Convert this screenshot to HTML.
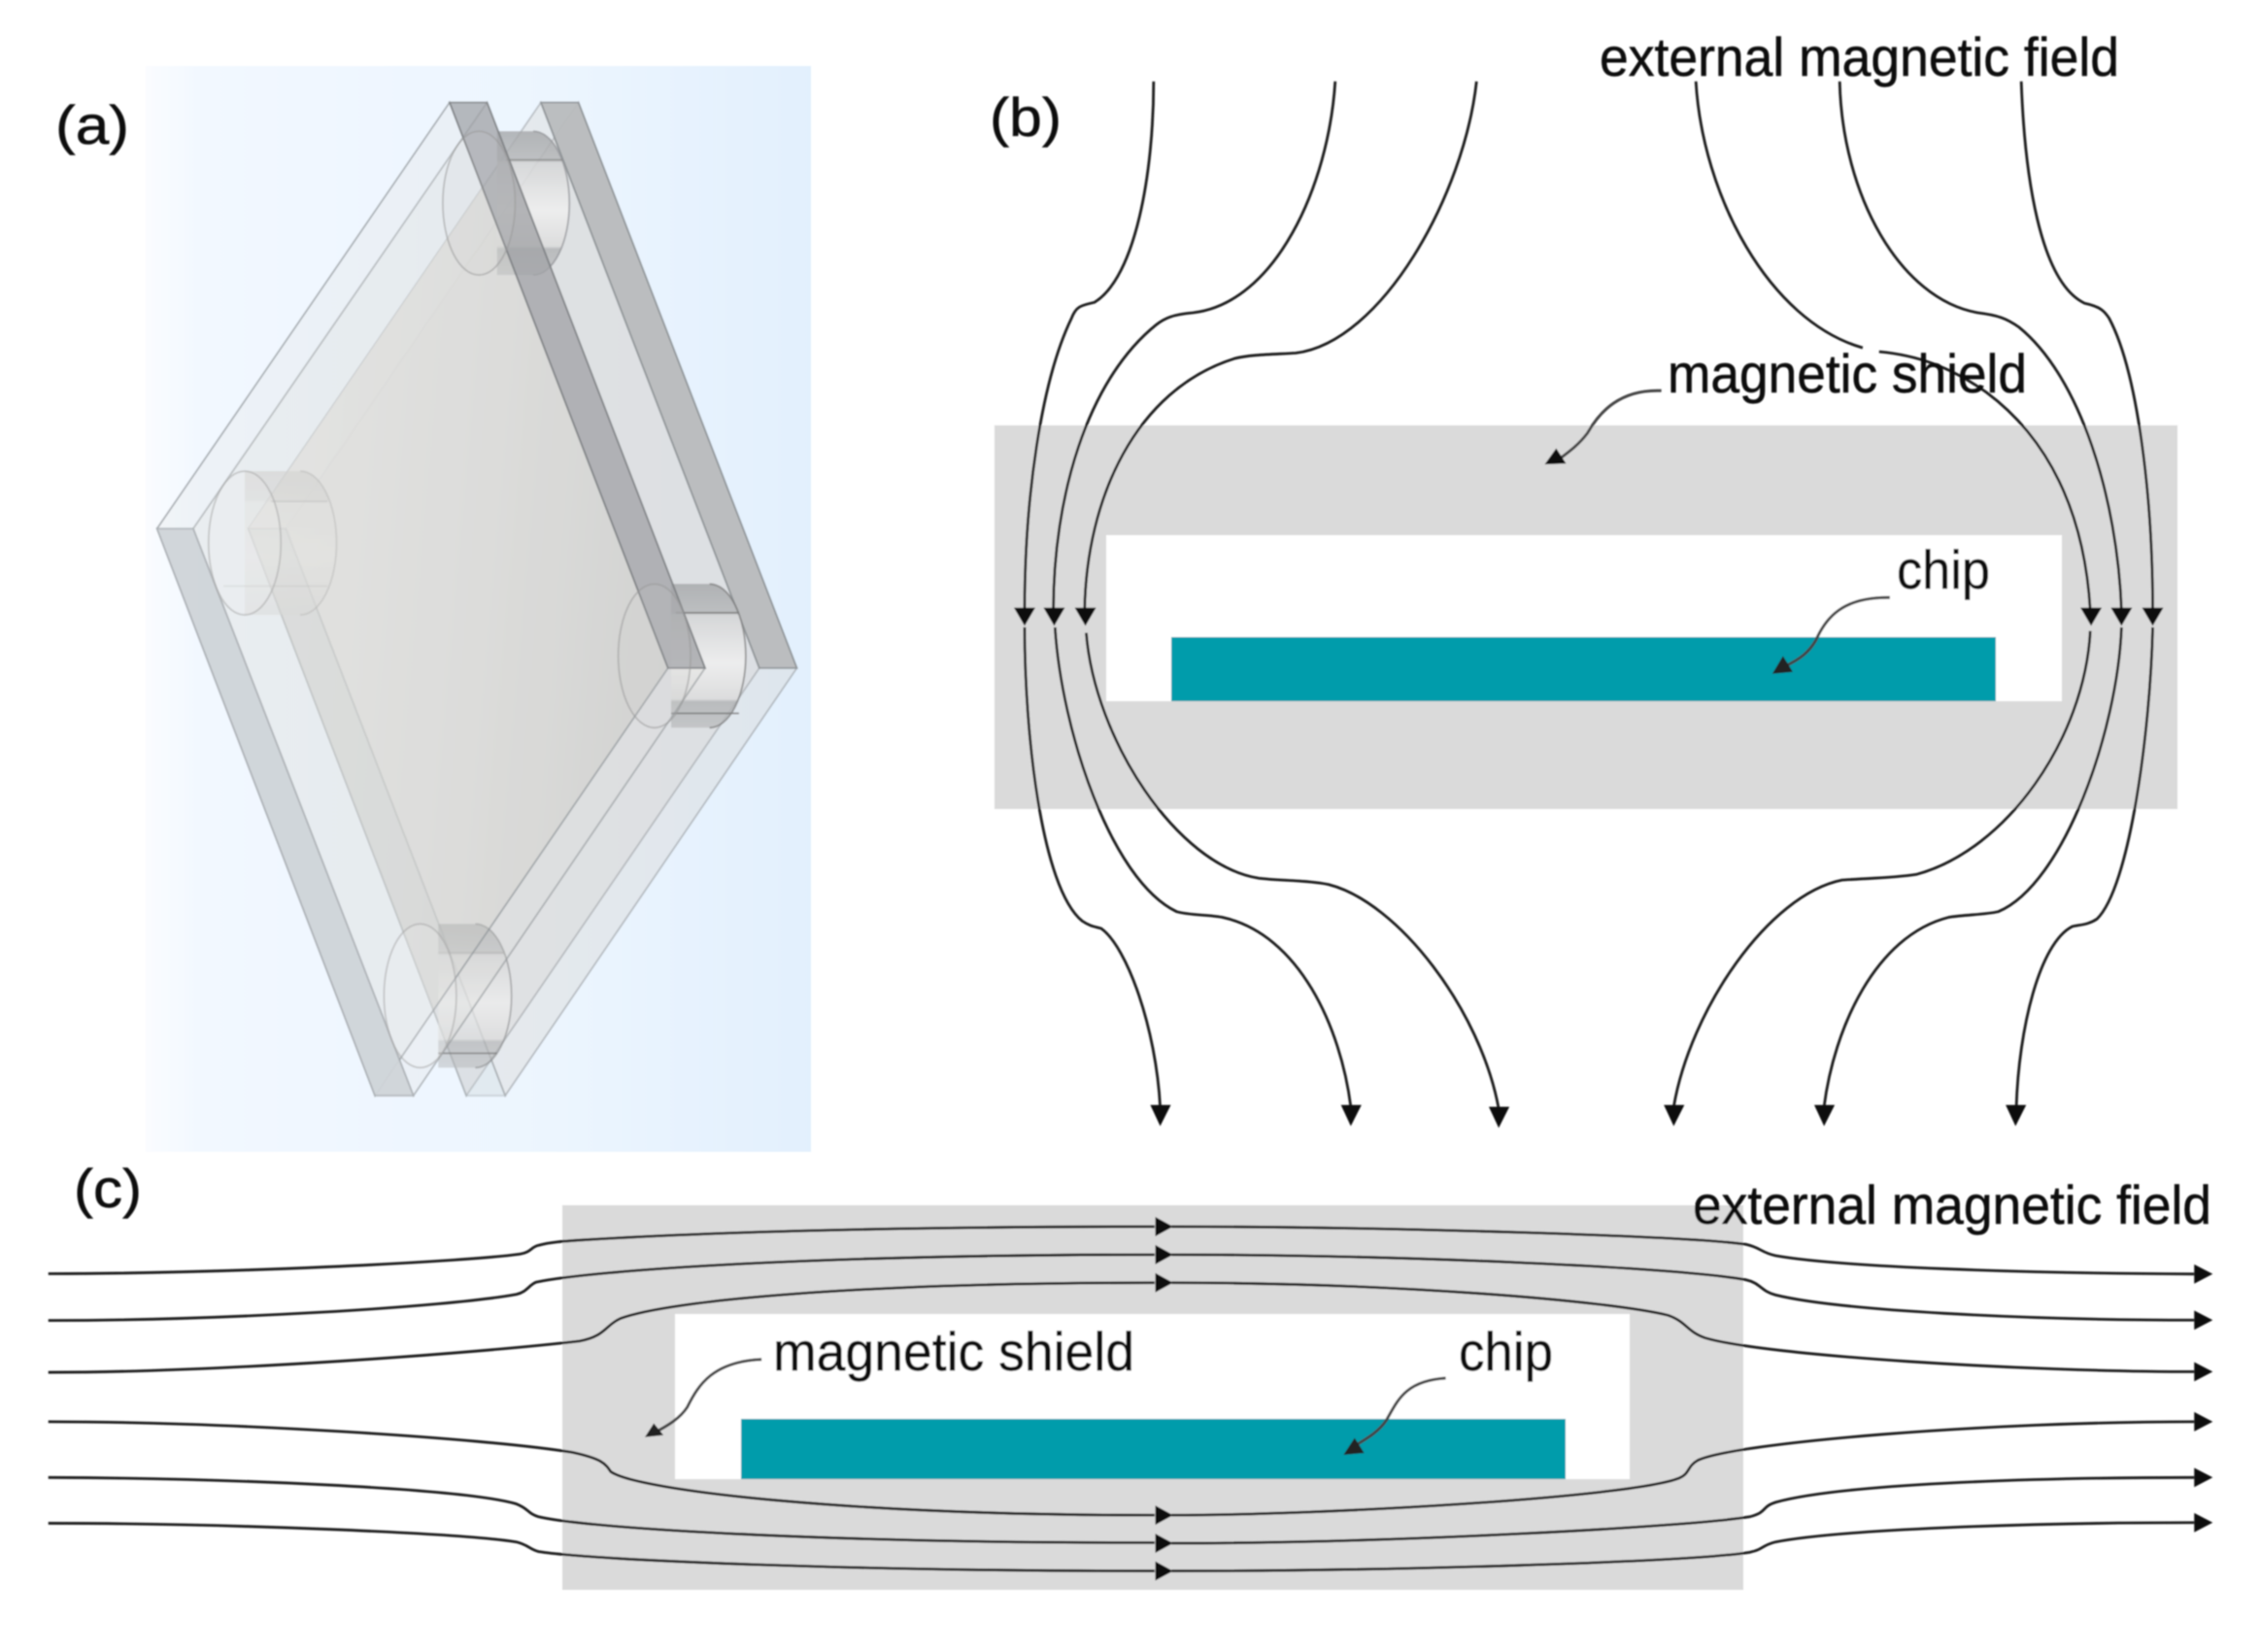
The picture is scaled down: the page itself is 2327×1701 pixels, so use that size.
<!DOCTYPE html>
<html><head><meta charset="utf-8"><title>Magnetic shield diagram</title>
<style>
html,body{margin:0;padding:0;background:#fff;width:2327px;height:1701px;overflow:hidden}
svg{display:block}
text{font-family:"Liberation Sans",sans-serif;fill:#0c0c0c;stroke:#0c0c0c;stroke-width:.5px;font-size:56px}
.l path{fill:none;stroke:#1c1c1c;stroke-width:2.8;vector-effect:non-scaling-stroke}
.l .c{stroke:#444;stroke-width:3}
.a *{vector-effect:non-scaling-stroke}
</style></head><body>
<svg width="2327" height="1701" viewBox="0 0 2327 1701" xmlns="http://www.w3.org/2000/svg">
<defs>
<linearGradient id="bg" x1="0" x2="1" y1="0" y2="0"><stop offset="0" stop-color="#fafcff"/><stop offset=".08" stop-color="#f2f8ff"/><stop offset=".6" stop-color="#ecf5fe"/><stop offset="1" stop-color="#e2f0fd"/></linearGradient>
<linearGradient id="cy" x1="0" x2="0" y1="0" y2="1"><stop offset="0" stop-color="#a4a6a8" stop-opacity=".8"/><stop offset=".2" stop-color="#b4b6b8" stop-opacity=".8"/><stop offset=".22" stop-color="#d4d5d6" stop-opacity=".85"/><stop offset=".55" stop-color="#efefef" stop-opacity=".85"/><stop offset=".8" stop-color="#dcdcdc" stop-opacity=".85"/><stop offset=".82" stop-color="#b0b2b4" stop-opacity=".8"/><stop offset="1" stop-color="#b8babc" stop-opacity=".7"/></linearGradient>
<linearGradient id="cy2" x1="0" x2="0" y1="0" y2="1"><stop offset="0" stop-color="#cfcfcf" stop-opacity=".6"/><stop offset=".2" stop-color="#d6d6d6" stop-opacity=".6"/><stop offset=".22" stop-color="#e2e2e2" stop-opacity=".5"/><stop offset=".6" stop-color="#e9e9e9" stop-opacity=".5"/><stop offset="1" stop-color="#d9d9d9" stop-opacity=".5"/></linearGradient>
<linearGradient id="cen" gradientUnits="userSpaceOnUse" x1="270" x2="1198" y1="668" y2="800"><stop offset="0" stop-color="#e9e9e9"/><stop offset=".45" stop-color="#e1e1e1"/><stop offset="1" stop-color="#cfcfcf"/></linearGradient>
<filter id="b" filterUnits="userSpaceOnUse" x="0" y="0" width="2327" height="1701"><feGaussianBlur stdDeviation="0.9"/></filter>
</defs>
<rect width="2327" height="1701" fill="#fff"/>
<g filter="url(#b)">
<!-- panel a -->
<rect x="150" y="68" width="685" height="1118" fill="url(#bg)"/>
<g class="a" transform="translate(130,50) scale(.4656,.74)" fill="#d8d6d2" fill-opacity=".38" stroke="#8f9498" stroke-width="1.8">
  <!-- back plate faces -->
  <polygon points="353,668 1000,75 1483,862 838,1457" stroke-opacity=".55"/>
  <polygon points="270,668 917,75 1400,862 752,1457" stroke-opacity=".5"/>
  <!-- center overlap -->
  <polygon points="270,668 788,193 1198,862 679,1338" fill="url(#cen)" fill-opacity=".85" stroke="none"/>
  <polygon points="270,668 353,668 838,1457 752,1457" fill="#c8cccf" fill-opacity=".3" stroke="#8f9498" stroke-opacity=".3"/>
  <polygon points="917,75 1000,75 1483,862 1400,862" fill="#b8babd" fill-opacity=".95" stroke="#8b8f93" stroke-opacity=".85"/>
  <!-- cylinders -->
  <path d="M820,115 L900,115 A80,100 0 0 1 900,315 L820,315 Z" fill="url(#cy)" fill-opacity="1" stroke="none"/>
  <path d="M900,115 A80,100 0 0 1 900,315" fill="none" stroke="#909296" stroke-opacity=".7"/>
  <line x1="840" y1="155" x2="965" y2="155" stroke="#888" stroke-opacity=".7"/>
  <path d="M1205,745 L1290,745 A80,100 0 0 1 1290,945 L1205,945 Z" fill="url(#cy)" fill-opacity="1" stroke="none"/>
  <path d="M1290,745 A80,100 0 0 1 1290,945" fill="none" stroke="#777" stroke-opacity=".7"/>
  <line x1="1215" y1="785" x2="1355" y2="785" stroke="#777" stroke-opacity=".8"/><line x1="1205" y1="925" x2="1355" y2="925" stroke="#777" stroke-opacity=".8"/>
  <path d="M690,1218 L772,1218 A80,100 0 0 1 772,1418 L690,1418 Z" fill="url(#cy)" fill-opacity=".75" stroke="none"/>
  <path d="M772,1218 A80,100 0 0 1 772,1418" fill="none" stroke="#8a8c8e" stroke-opacity=".6"/>
  <line x1="690" y1="1258" x2="835" y2="1258" stroke="#aaa" stroke-opacity=".5"/><line x1="690" y1="1398" x2="820" y2="1398" stroke="#777" stroke-opacity=".7"/>
  <path d="M262,588 L385,588 A80,100 0 0 1 385,788 L262,788 Z" fill="url(#cy2)" fill-opacity="1" stroke="none"/>
  <path d="M385,588 A80,100 0 0 1 385,788" fill="none" stroke="#aaa" stroke-opacity=".5"/>
  <line x1="320" y1="630" x2="445" y2="630" stroke="#bbb" stroke-opacity=".6"/><line x1="215" y1="748" x2="445" y2="748" stroke="#bbb" stroke-opacity=".4"/>
  <!-- front plate -->
  <polygon points="148,668 798,75 1280,862 635,1457" fill-opacity=".18" stroke-opacity=".6"/>
  <polygon points="68,668 715,75 1198,862 550,1457" fill-opacity=".18" stroke-opacity=".7"/>
  <polygon points="715,75 798,75 1280,862 1198,862" fill="#9ea0a3" fill-opacity=".72" stroke="#77797c" stroke-opacity=".75"/>
  <polygon points="68,668 148,668 635,1457 550,1457" fill="#cfd4d8" fill-opacity=".95" stroke="#a6abaf" stroke-opacity=".7"/>
  <ellipse cx="262" cy="688" rx="80" ry="100" fill="#eee" fill-opacity=".2" stroke="#a8a8a8" stroke-opacity=".55"/>
  <ellipse cx="780" cy="215" rx="80" ry="100" fill="#ccc" fill-opacity=".12" stroke="#999" stroke-opacity=".55"/>
  <ellipse cx="1168" cy="845" rx="80" ry="100" fill="#ccc" fill-opacity=".1" stroke="#999" stroke-opacity=".55"/>
  <ellipse cx="650" cy="1318" rx="80" ry="100" fill="#eee" fill-opacity=".2" stroke="#a8a8a8" stroke-opacity=".55"/>
</g>
<text x="57" y="148" textLength="76" lengthAdjust="spacingAndGlyphs">(a)</text>
<text x="1019" y="140" textLength="74" lengthAdjust="spacingAndGlyphs">(b)</text>
<text x="76" y="1243" textLength="70" lengthAdjust="spacingAndGlyphs">(c)</text>

<!-- panel b shapes -->
<rect x="1024" y="438" width="1218" height="395" fill="#dadada"/>
<rect x="1139" y="551" width="984" height="171" fill="#fff"/>
<rect x="1206" y="656" width="849" height="66" fill="#009cab"/>
<!-- panel c shapes -->
<rect x="579" y="1241" width="1216" height="396" fill="#dadada"/>
<rect x="695" y="1353" width="983" height="170" fill="#fff"/>
<rect x="763" y="1461" width="849" height="62" fill="#009cab"/>

<!-- panel b upper lines -->
<g class="l" transform="translate(1000,0) scale(.846,.446)">
<path d="M222,188 C222,400 200,640 150,698 C135,705 128,705 122,735 C85,880 65,1150 65,1410"/>
<path d="M443,188 C435,430 370,700 270,722 C245,726 235,735 225,750 C140,880 100,1150 100,1410"/>
<path d="M615,188 C600,450 500,790 395,815 C370,818 340,818 320,828 C200,900 140,1150 138,1410"/>
<path d="M882,188 C890,450 970,740 1085,803"/>
<path d="M1105,812 C1150,820 1190,845 1235,905 C1310,1010 1355,1180 1362,1410"/>
<path d="M1057,188 C1060,450 1130,690 1225,722 C1250,728 1260,735 1275,755 C1350,870 1395,1150 1400,1410"/>
<path d="M1278,188 C1282,400 1300,650 1355,700 C1375,708 1380,720 1385,735 C1420,860 1438,1150 1438,1410"/>
<path class="c" d="M840,902 C790,898 765,950 750,1000 C740,1025 730,1040 712,1065"/>
<g fill="#111" stroke="none">
<polygon points="52,1403 78,1403 65,1445"/><polygon points="88,1403 114,1403 101,1445"/><polygon points="126,1403 152,1403 139,1445"/>
<polygon points="1350,1403 1376,1403 1363,1445"/><polygon points="1387,1403 1413,1403 1400,1445"/><polygon points="1425,1403 1451,1403 1438,1445"/>
<polygon points="712,1035 698,1072 724,1070"/>
</g>
</g>
<!-- panel b lower lines -->
<g class="l" transform="translate(1000,600) scale(.846,.3827)">
<path d="M65,120 C65,400 85,820 135,910 C145,925 150,925 158,930 C190,980 225,1200 230,1410"/>
<path d="M102,120 C110,400 170,800 250,885 C265,895 290,893 305,900 C400,945 450,1200 462,1410"/>
<path d="M140,135 C150,420 250,760 350,795 C375,802 410,800 435,812 C520,860 620,1150 642,1415"/>
<path d="M1438,120 C1435,400 1410,820 1370,905 C1360,920 1350,920 1340,925 C1300,970 1275,1200 1272,1410"/>
<path d="M1400,120 C1395,400 1330,810 1250,885 C1235,893 1210,893 1190,900 C1100,950 1050,1200 1038,1410"/>
<path d="M1362,130 C1355,420 1260,720 1150,785 C1120,795 1090,795 1060,800 C970,840 875,1150 855,1410"/>
<path class="c" d="M1118,40 C1060,38 1040,95 1028,155 C1020,185 1010,205 990,225"/>
<g fill="#111" stroke="none">
<polygon points="218,1405 243,1405 230,1462"/><polygon points="450,1405 475,1405 462,1462"/><polygon points="630,1410 655,1410 642,1467"/>
<polygon points="843,1405 868,1405 855,1462"/><polygon points="1026,1405 1051,1405 1038,1462"/><polygon points="1259,1405 1284,1405 1271,1462"/>
<polygon points="988,197 975,245 1000,240" fill="#222"/>
</g>
</g>
<!-- panel c left -->
<g class="l" transform="translate(0,1180) scale(.765,.332)">
<path d="M65,396 C300,396 620,360 700,335 C715,330 715,312 725,308 C740,298 760,295 780,292 C1000,260 1300,250 1554,250"/>
<path d="M65,541 C300,541 600,500 695,460 C710,452 712,430 722,422 C800,385 1100,337 1554,337"/>
<path d="M65,702 C300,702 650,640 780,605 C815,590 815,555 835,535 C900,480 1150,424 1554,424"/>
<path d="M65,855 C300,855 650,905 770,950 C810,970 815,985 822,1010 C860,1070 1150,1145 1554,1145"/>
<path d="M65,1028 C300,1030 620,1060 695,1110 C712,1125 710,1140 725,1150 C800,1190 1150,1232 1554,1230"/>
<path d="M65,1170 C300,1170 620,1200 695,1228 C712,1238 712,1250 725,1258 C800,1285 1150,1318 1554,1318"/>
<path class="c" d="M1025,662 C960,668 940,740 925,810 C915,845 900,865 882,888"/>
<polygon points="880,860 868,903 893,897" fill="#222" stroke="none"/>
</g>
<!-- panel c right -->
<g class="l" transform="translate(1130,1180) scale(.763,.332)">
<path d="M100,250 C400,250 800,280 875,305 C895,315 895,330 915,340 C1000,375 1250,395 1480,397"/>
<path d="M100,337 C400,337 780,375 875,415 C895,425 895,450 915,462 C1000,510 1250,540 1480,540"/>
<path d="M100,424 C400,424 690,480 770,525 C795,545 795,575 820,595 C900,650 1250,700 1480,700"/>
<path d="M100,1145 C300,1145 720,1090 785,1030 C800,1015 795,995 810,975 C860,920 1200,855 1480,855"/>
<path d="M100,1232 C400,1232 800,1180 880,1150 C905,1135 895,1120 915,1105 C1000,1050 1250,1028 1480,1028"/>
<path d="M100,1318 C400,1318 800,1290 880,1260 C900,1250 895,1240 915,1228 C1000,1190 1250,1168 1480,1168"/>
<path class="c" d="M470,720 C415,728 405,790 390,850 C380,885 365,905 347,930"/>
<g fill="#111" stroke="none">
<polygon points="78,220 78,280 102,250"/><polygon points="78,307 78,367 102,337"/><polygon points="78,394 78,454 102,424"/>
<polygon points="78,1115 78,1175 102,1145"/><polygon points="78,1202 78,1262 102,1232"/><polygon points="78,1288 78,1348 102,1318"/>
<polygon points="1480,367 1480,427 1505,397"/><polygon points="1480,510 1480,570 1505,540"/><polygon points="1480,670 1480,730 1505,700"/>
<polygon points="1480,825 1480,885 1505,855"/><polygon points="1480,998 1480,1058 1505,1028"/><polygon points="1480,1138 1480,1198 1505,1168"/>
<polygon points="347,905 332,958 360,952" fill="#222"/>
</g>
</g>

<!-- labels -->
<text x="1647" y="78" textLength="535" lengthAdjust="spacingAndGlyphs">external magnetic field</text>
<text x="1717" y="404" textLength="370" lengthAdjust="spacingAndGlyphs">magnetic shield</text>
<text x="1953" y="606" textLength="96" lengthAdjust="spacingAndGlyphs">chip</text>
<text x="1743" y="1260" textLength="534" lengthAdjust="spacingAndGlyphs">external magnetic field</text>
<text x="796" y="1411" textLength="372" lengthAdjust="spacingAndGlyphs">magnetic shield</text>
<text x="1502" y="1411" textLength="97" lengthAdjust="spacingAndGlyphs">chip</text>
</g>
</svg>
</body></html>
